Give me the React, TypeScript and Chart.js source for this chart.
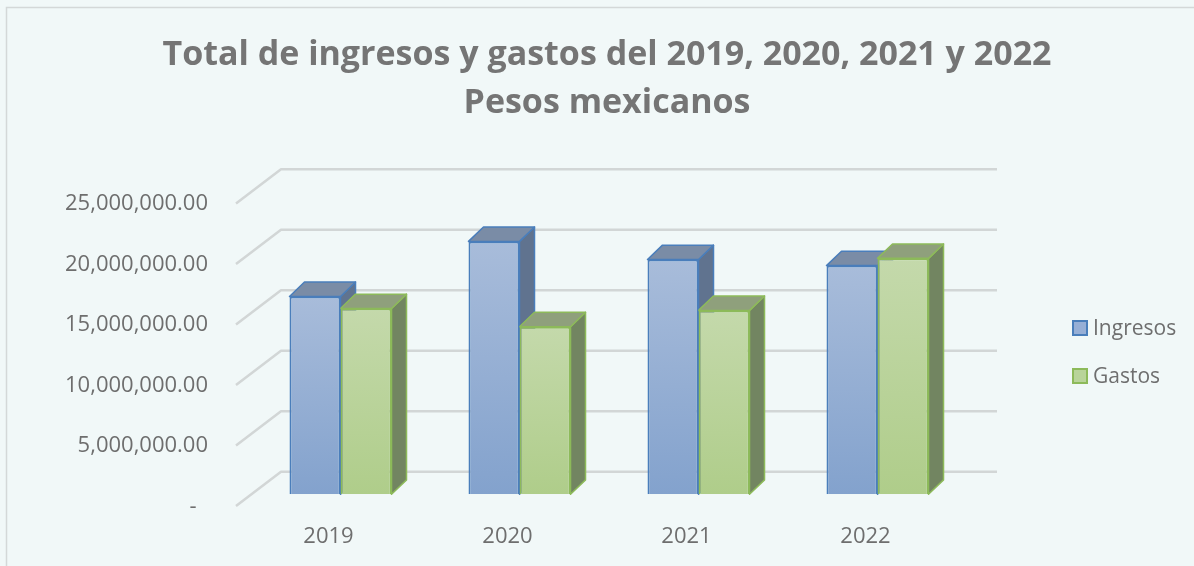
import { useEffect, useRef } from 'react';
import { Chart, registerables } from 'chart.js';

Chart.register(...registerables);

// ---- data ----
const years = ['2019', '2020', '2021', '2022'];
const seriesNames = ['Ingresos', 'Gastos'];
const ingresos = [16350000, 20900000, 19400000, 18900000];
const gastos = [15350000, 13850000, 15200000, 19500000];
const titleLines = ['Total de ingresos y gastos del 2019, 2020, 2021 y 2022', 'Pesos mexicanos'];
const yMin = 0;
const yMax = 25000000;
const yStep = 5000000;

// ---- styles ----
const W = 1194;
const H = 566;
const BG = '#F1F8F8';
const FONT = '"Open Sans", sans-serif';
const TEXT = '#6E6E6E';
const TITLE = '#757575';
const GRID = '#D2D6D6';
const palette = [
  { front: ['#A8BCDA', '#83A2CD'], border: '#4A7EBB', top: '#7A8CA6', side: '#60738F', key: '#97AFD6' },
  { front: ['#C4D9AB', '#AFCD8A'], border: '#8DBA5A', top: '#8FA07C', side: '#728561', key: '#B9D49A' },
];
// 3D offsets, relative to the plane that holds the bar fronts
const WALL_FRONT = { dx: -15, dy: 11.7 };
const WALL_BACK = { dx: 30, dy: -22.6 };
const BAR_DEPTH = { dx: 15, dy: -14.4 };

const fmt = (v: number) =>
  v === 0 ? '-  ' : v.toLocaleString('en-US', { minimumFractionDigits: 2, maximumFractionDigits: 2 });

const frontFill = (ctx: any) => {
  const chart = ctx.chart;
  const ys = chart.scales?.y;
  const pal = palette[ctx.datasetIndex];
  if (!ys || ctx.dataIndex === undefined) return pal.front[1];
  const v = chart.data.datasets[ctx.datasetIndex].data[ctx.dataIndex] as number;
  const top = ys.getPixelForValue(v);
  const base = ys.getPixelForValue(0);
  if (!isFinite(top) || !isFinite(base) || top === base) return pal.front[1];
  const g = chart.ctx.createLinearGradient(0, top, 0, base);
  g.addColorStop(0, pal.front[0]);
  g.addColorStop(1, pal.front[1]);
  return g;
};

const scene = {
  id: 'scene3d',
  beforeDraw(chart: any) {
    const { ctx } = chart;
    ctx.save();
    ctx.fillStyle = BG;
    ctx.fillRect(0, 0, W, H);
    ctx.strokeStyle = '#D4D8D8';
    ctx.lineWidth = 1.5;
    ctx.strokeRect(6.5, 7.5, W + 20, H + 20);
    ctx.fillStyle = TITLE;
    ctx.font = `bold 34px ${FONT}`;
    ctx.textAlign = 'center';
    ctx.textBaseline = 'middle';
    ctx.fillText(titleLines[0], 607, 55);
    ctx.fillText(titleLines[1], 607, 103);

    // legend
    ctx.font = `21px ${FONT}`;
    ctx.textAlign = 'left';
    chart.data.datasets.forEach((ds: any, i: number) => {
      const cy = 328 + i * 48;
      ctx.fillStyle = palette[i].key;
      ctx.fillRect(1073, cy - 7, 14, 14);
      ctx.strokeStyle = palette[i].border;
      ctx.lineWidth = 2;
      ctx.strokeRect(1073, cy - 7, 14, 14);
      ctx.fillStyle = TEXT;
      ctx.fillText(ds.label, 1093, cy + 1);
    });
    ctx.restore();
  },
  beforeDatasetsDraw(chart: any) {
    const { ctx, chartArea } = chart;
    const ys = chart.scales.y;
    ctx.save();
    // walls: side wall diagonals + back wall gridlines
    ctx.strokeStyle = GRID;
    ctx.lineWidth = 2.5;
    ctx.lineJoin = 'round';
    ys.ticks.forEach((t: any) => {
      const y = ys.getPixelForValue(t.value);
      ctx.beginPath();
      ctx.moveTo(chartArea.left + WALL_FRONT.dx, y + WALL_FRONT.dy);
      ctx.lineTo(chartArea.left + WALL_BACK.dx, y + WALL_BACK.dy);
      ctx.lineTo(chartArea.right + WALL_BACK.dx, y + WALL_BACK.dy);
      ctx.stroke();
    });
    // bar tops and sides, drawn category by category so nearer faces overlap
    const metas = chart.data.datasets.map((_: any, i: number) => chart.getDatasetMeta(i));
    const n = chart.data.labels.length;
    for (let j = 0; j < n; j++) {
      metas.forEach((meta: any, i: number) => {
        const el = meta.data[j];
        if (!el) return;
        const pal = palette[i];
        const l = el.x - el.width / 2;
        const r = el.x + el.width / 2;
        const t = el.y;
        const b = el.base;
        const { dx, dy } = BAR_DEPTH;
        ctx.lineWidth = 1.5;
        ctx.strokeStyle = pal.border;
        ctx.beginPath();
        ctx.moveTo(r, t);
        ctx.lineTo(r + dx, t + dy);
        ctx.lineTo(r + dx, b + dy);
        ctx.lineTo(r, b);
        ctx.closePath();
        ctx.fillStyle = pal.side;
        ctx.fill();
        ctx.stroke();
        ctx.beginPath();
        ctx.moveTo(l, t);
        ctx.lineTo(l + dx, t + dy);
        ctx.lineTo(r + dx, t + dy);
        ctx.lineTo(r, t);
        ctx.closePath();
        ctx.fillStyle = pal.top;
        ctx.fill();
        ctx.stroke();
      });
    }
    ctx.restore();
  },
};

export default function App() {
  const ref = useRef<HTMLCanvasElement>(null);
  useEffect(() => {
    if (!ref.current) return;
    const chart = new Chart(ref.current, {
      type: 'bar',
      data: {
        labels: years,
        datasets: [
          {
            label: seriesNames[0],
            data: ingresos,
            backgroundColor: frontFill,
            borderColor: palette[0].border,
            borderWidth: 2,
            categoryPercentage: 0.57,
            barPercentage: 1,
          },
          {
            label: seriesNames[1],
            data: gastos,
            backgroundColor: frontFill,
            borderColor: palette[1].border,
            borderWidth: 2,
            categoryPercentage: 0.57,
            barPercentage: 1,
          },
        ],
      },
      options: {
        responsive: false,
        animation: false,
        layout: { padding: { top: 191.8, right: 227, left: 0, bottom: 0 } },
        plugins: { legend: { display: false }, title: { display: false }, tooltip: { enabled: false } },
        scales: {
          x: {
            grid: { display: false, drawTicks: false },
            border: { display: false },
            ticks: { color: TEXT, font: { family: FONT, size: 22 }, padding: 29.5, labelOffset: -12 },
            afterFit: (s: any) => {
              s.height = 71.7;
            },
          },
          y: {
            min: yMin,
            max: yMax,
            grid: { display: false, drawTicks: false },
            border: { display: false },
            ticks: {
              stepSize: yStep,
              color: TEXT,
              font: { family: FONT, size: 22 },
              padding: 43,
              labelOffset: 12,
              callback: (v: any) => fmt(Number(v)),
            },
            afterFit: (s: any) => {
              s.width = 251;
            },
          },
        },
      },
      plugins: [scene],
    });
    return () => chart.destroy();
  }, []);
  return (
    <div style={{ position: 'fixed', left: 0, top: 0, width: W, height: H }}>
      <canvas ref={ref} width={W} height={H} style={{ display: 'block' }} />
    </div>
  );
}
